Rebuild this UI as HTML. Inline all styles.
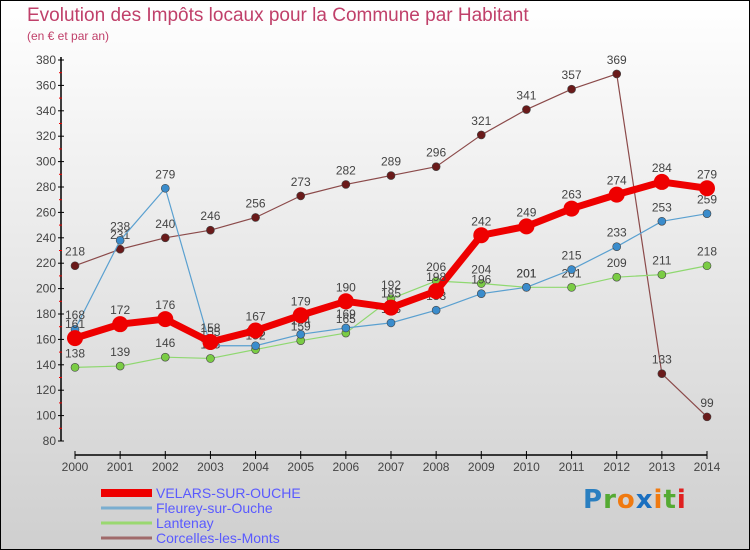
<!DOCTYPE html>
<html><head><meta charset="utf-8"><style>
html,body{margin:0;padding:0}
#root{position:relative;width:748px;height:548px;border:1px solid #000;background:linear-gradient(#ffffff,#cfcfcf);font-family:"Liberation Sans",sans-serif;overflow:hidden}
.t{position:absolute;color:#c0406a}
</style></head><body>
<div id="root">
<div class="t" style="left:26px;top:4px;font-size:19px">Evolution des Impôts locaux pour la Commune par Habitant</div>
<div class="t" style="left:26px;top:28px;font-size:12px">(en € et par an)</div>
<svg id="svg" width="748" height="548" style="position:absolute;left:0;top:0"></svg>
<div style="position:absolute;left:582px;top:484px;font-size:26px;font-weight:bold;font-family:'DejaVu Sans',sans-serif;letter-spacing:1px"><span style="color:#2a7fc0">P</span><span style="color:#55aa33">r</span><span style="color:#f07a10">o</span><span style="color:#1a6fc0">x</span><span style="color:#f07a10">i</span><span style="color:#55aa33">t</span><span style="color:#e02020">i</span></div>
</div>
<script>
const years=[2000,2001,2002,2003,2004,2005,2006,2007,2008,2009,2010,2011,2012,2013,2014];
const velars=[161,172,176,158,167,179,190,185,198,242,249,263,274,284,279];
const fleurey=[168,238,279,155,155,164,169,173,183,196,201,215,233,253,259];
const lantenay=[138,139,146,145,152,159,165,192,206,204,201,201,209,211,218];
const corcelles=[218,231,240,246,256,273,282,289,296,321,341,357,369,133,99];
const yTicks=[80,100,120,140,160,180,200,220,240,260,280,300,320,340,360,380];
const names=["VELARS-SUR-OUCHE","Fleurey-sur-Ouche","Lantenay","Corcelles-les-Monts"];
const NS="http://www.w3.org/2000/svg";
const svg=document.getElementById('svg');
const x=i=>74+i*(706-74)/(years.length-1);
const y=v=>440-(v-80)*(440-59)/300;
function el(t,a,p){const e=document.createElementNS(NS,t);for(const k in a)e.setAttribute(k,a[k]);(p||svg).appendChild(e);return e;}
let ax=el('line',{x1:60,y1:56,x2:60,y2:440,stroke:'#000','stroke-width':1.5});


let xa=el('line',{x1:74,y1:454,x2:706,y2:454,stroke:'#000','stroke-width':1.5});


yTicks.forEach((v,i)=>{
  el('line',{x1:57,y1:y(v),x2:63,y2:y(v),stroke:'#000'});
  if(i<yTicks.length-1)el('line',{x1:58,y1:y(v+10),x2:61,y2:y(v+10),stroke:'#e00'});
  const t=el('text',{x:55,y:y(v)+4,'text-anchor':'end','font-size':12,fill:'#444'});t.textContent=v;
  
  
});
years.forEach((yr,i)=>{
  el('line',{x1:x(i),y1:450,x2:x(i),y2:458,stroke:'#000'});
  const t=el('text',{x:x(i),y:470,'text-anchor':'middle','font-size':12,fill:'#444'});t.textContent=yr;
  
  
});
function series(data,color,dot,w,r,name){
  const g=el('g',{});
  
  
  el('polyline',{points:data.map((v,i)=>x(i)+','+y(v)).join(' '),fill:'none',stroke:color,'stroke-width':w,'stroke-linejoin':'round'},g);
  data.forEach((v,i)=>{
    const c=el('circle',{cx:x(i),cy:y(v),r:r,fill:dot,stroke:'#444','stroke-width':r>5?0:0.6},g);
    
    
    const t=el('text',{x:x(i),y:y(v)-10,'text-anchor':'middle','font-size':12,fill:'#444'},g);t.textContent=v;
  });
}
series(corcelles,'#8b4a4a','#6a1a1a',1.2,4,'series-corcelles');
series(lantenay,'#8fd870','#7acc44',1.2,4,'series-lantenay');
series(fleurey,'#5aa0d0','#3a8ccc',1.2,4,'series-fleurey');
series(velars,'#ee0000','#ee0000',7,8,'series-velars');
const lc=['#ee0000','#7aaed0','#9ad870','#a06a6a'],lw=[8,3,3,3];
names.forEach((n,i)=>{
  const yy=492+i*15;
  const l=el('line',{x1:100,y1:yy,x2:151,y2:yy,stroke:lc[i],'stroke-width':lw[i]});
  
  
  const t=el('text',{x:155,y:yy+5,'font-size':14,fill:'#5a5aff',textLength:0});t.textContent=n;
  t.removeAttribute('textLength');
  
  
});
</script>
</body></html>
